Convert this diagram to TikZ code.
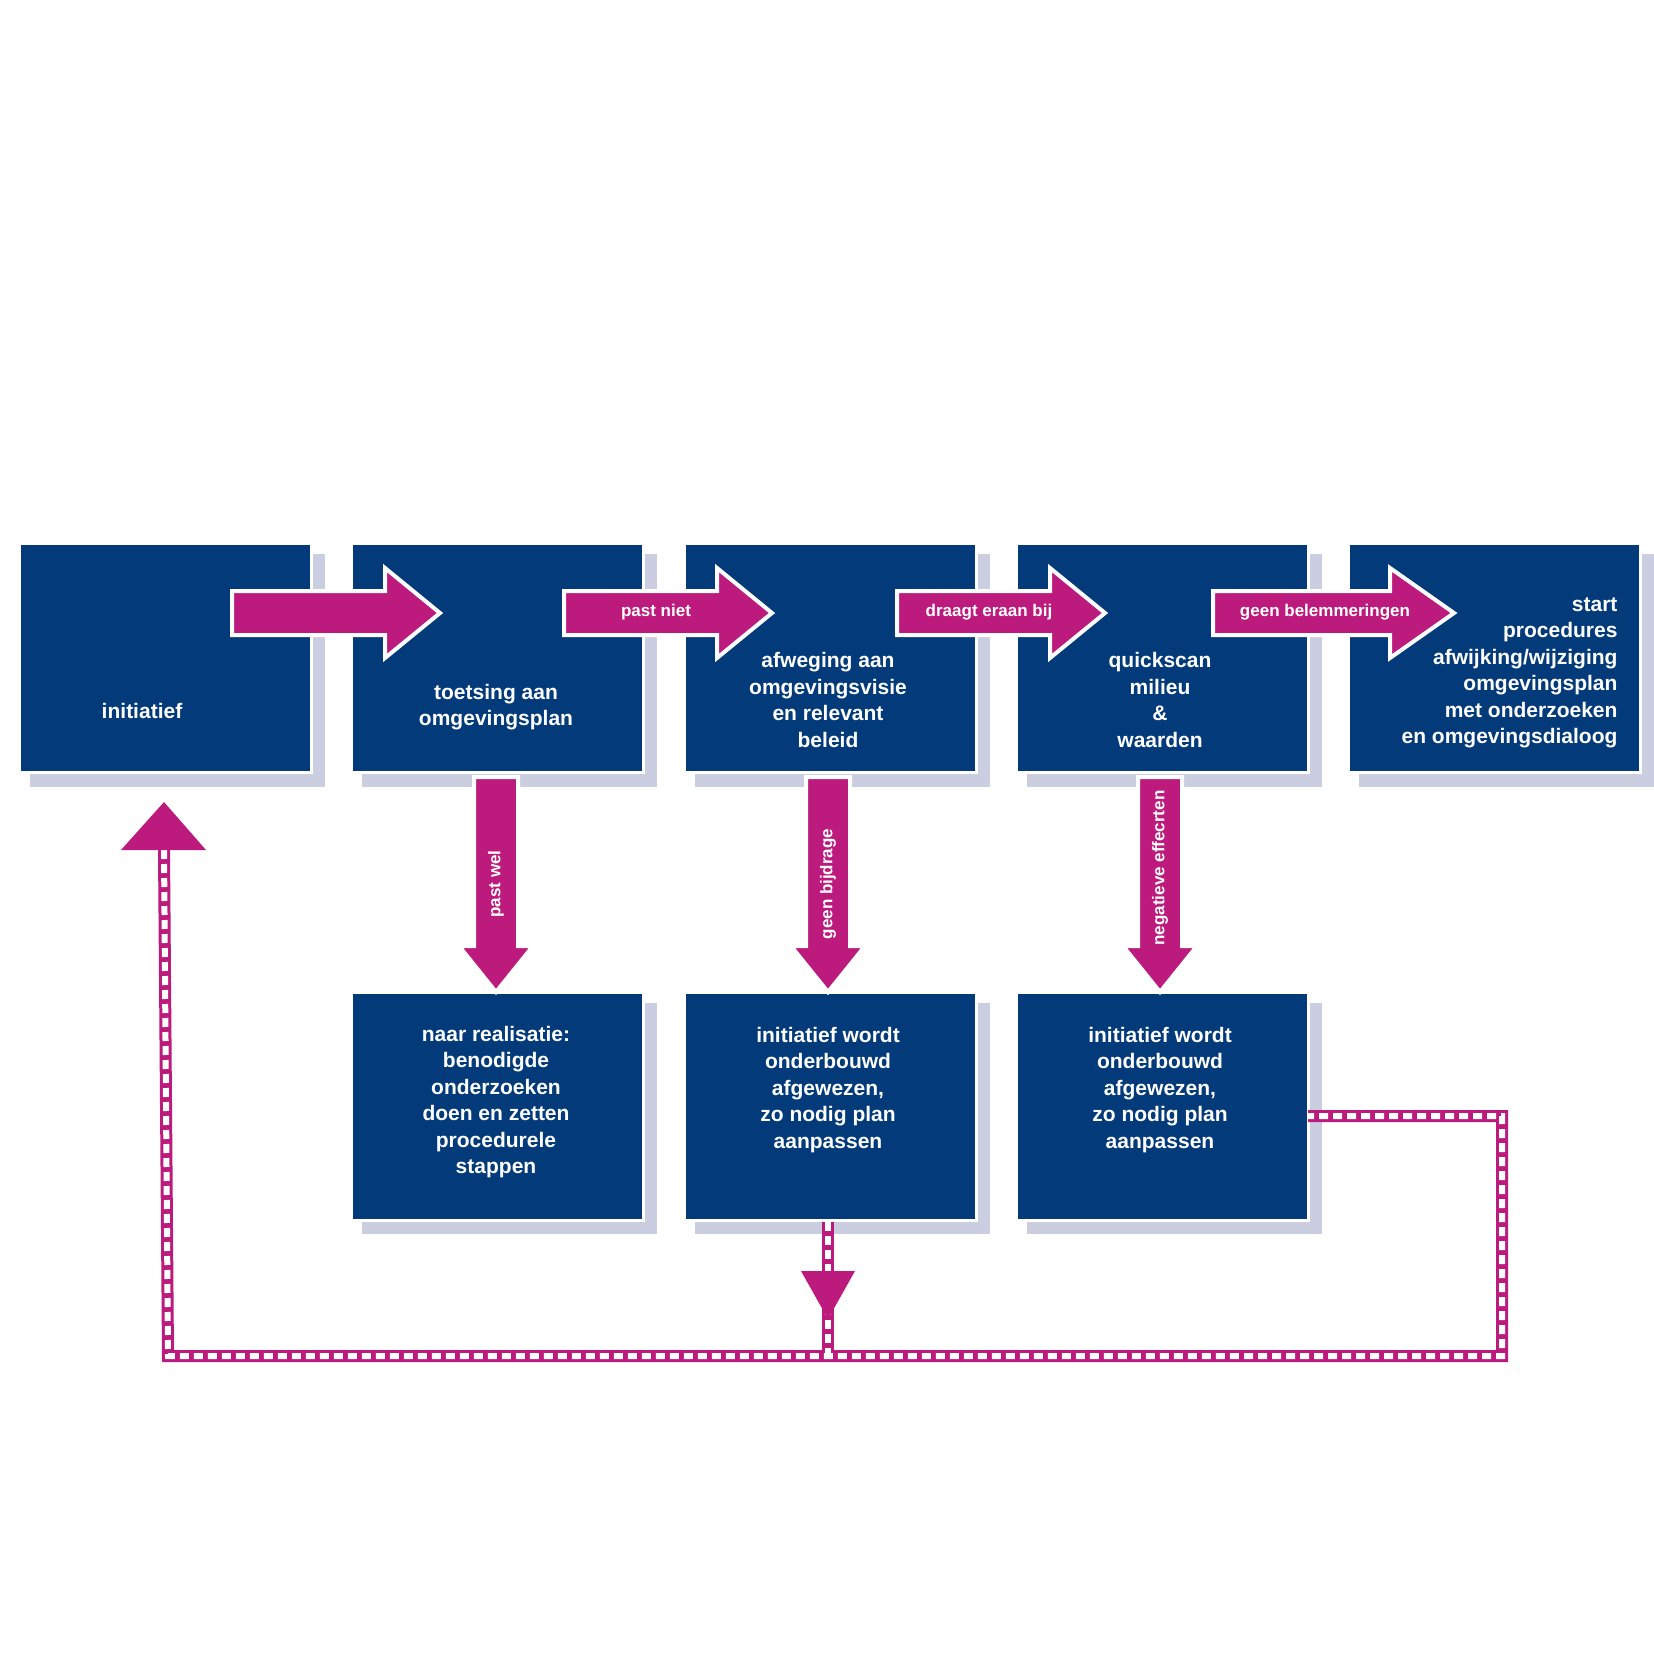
\documentclass[tikz,border=0pt]{standalone}
\usepackage{fontspec}
\setmainfont{Liberation Sans}
\begin{document}
\begin{tikzpicture}[x=1pt,y=-1pt,
  box/.style={fill=navy,draw=white,line width=3pt},
  shad/.style={fill=lav},
  arr/.style={fill=mag,draw=white,line width=4pt,line join=miter},
  txt/.style={text=white,font=\fontsize{21}{26.5}\selectfont\bfseries,align=center},
  lab/.style={text=white,font=\fontsize{17}{20}\selectfont\bfseries},
  dline/.style={draw=mag,line width=12pt},
  dwhite/.style={draw=white,line width=6pt,dash pattern=on 9pt off 5pt}]
\definecolor{navy}{HTML}{033A79}
\definecolor{lav}{HTML}{CBCDE0}
\definecolor{mag}{HTML}{BC1A7C}
\useasboundingbox (0,0) rectangle (1654,1654);
% top boxes
\foreach \x/\n in {19/a,351/b,684/c,1016/d,1348/e}{
  \fill[shad] (\x+11,554) rectangle (\x+289+17,787);
  \draw[box] (\x,543) rectangle (\x+292,772);
}
\foreach \x/\n in {351/f,684/g,1016/h}{
  \fill[shad] (\x+11,1003) rectangle (\x+289+17,1234);
  \draw[box] (\x,992) rectangle (\x+292,1220);
}
% dashed feedback
\coordinate (up) at (164,850);
\coordinate (bl) at (168,1356);
\coordinate (br) at (1502,1356);
\coordinate (rt) at (1502,1116);
\coordinate (rb) at (1308,1116);
\coordinate (mt) at (828,1222);
\coordinate (mb) at (828,1356);
\draw[dline] (up) -- (bl) -- (br) -- (rt) -- (rb);
\draw[dline] (mt) -- (mb);
\draw[dwhite] (up) -- (bl) -- (br) -- (rt) -- (rb);
\draw[dwhite] (mt) -- (mb);
\fill[mag] (121,850) -- (164,802) -- (206,850) -- cycle;
\fill[mag] (801,1271) -- (855,1271) -- (828,1319) -- cycle;
% horizontal arrows
\foreach \t/\h/\p in {232/385/440,564/717/772,897/1050/1105,1213/1390/1454}{
  \draw[arr] (\t,591) -- (\h,591) -- (\h,568) -- (\p,613) -- (\h,658) -- (\h,635) -- (\t,635) -- cycle;
}
\node[lab] (l1) at (656,612) {past niet};
\node[lab] (l2) at (989,612) {draagt eraan bij};
\node[lab] (l3) at (1325,612) {geen belemmeringen};
% vertical arrows
\foreach \c in {496,828,1160}{
  \draw[arr] (\c-22,777) -- (\c+22,777) -- (\c+22,946) -- (\c+37,946) -- (\c,992) -- (\c-37,946) -- (\c-22,946) -- cycle;
}
\node[lab,rotate=90] (v1) at (496,884) {past wel};
\node[lab,rotate=90] (v2) at (828,884) {geen bijdrage};
\node[lab,rotate=90] (v3) at (1160,868) {negatieve effecrten};
% texts
\node[txt] (ta) at (142,711) {initiatief};
\node[txt] (tb) at (496,707) {toetsing aan\\omgevingsplan};
\node[txt] (tc) at (828,700) {afweging aan\\omgevingsvisie\\en relevant\\beleid};
\node[txt] (td) at (1160,700) {quickscan\\milieu\\\&\\waarden};
\node[txt,align=right,anchor=east] (te) at (1621,673) {start\\procedures\\afwijking/wijziging\\omgevingsplan\\met onderzoeken\\en omgevingsdialoog};
\node[txt] (tf) at (496,1102) {naar realisatie:\\benodigde\\onderzoeken\\doen en zetten\\procedurele\\stappen};
\node[txt] (tg) at (828,1090) {initiatief wordt\\onderbouwd\\afgewezen,\\zo nodig plan\\aanpassen};
\node[txt] (th) at (1160,1090) {initiatief wordt\\onderbouwd\\afgewezen,\\zo nodig plan\\aanpassen};
\end{tikzpicture}
\end{document}
